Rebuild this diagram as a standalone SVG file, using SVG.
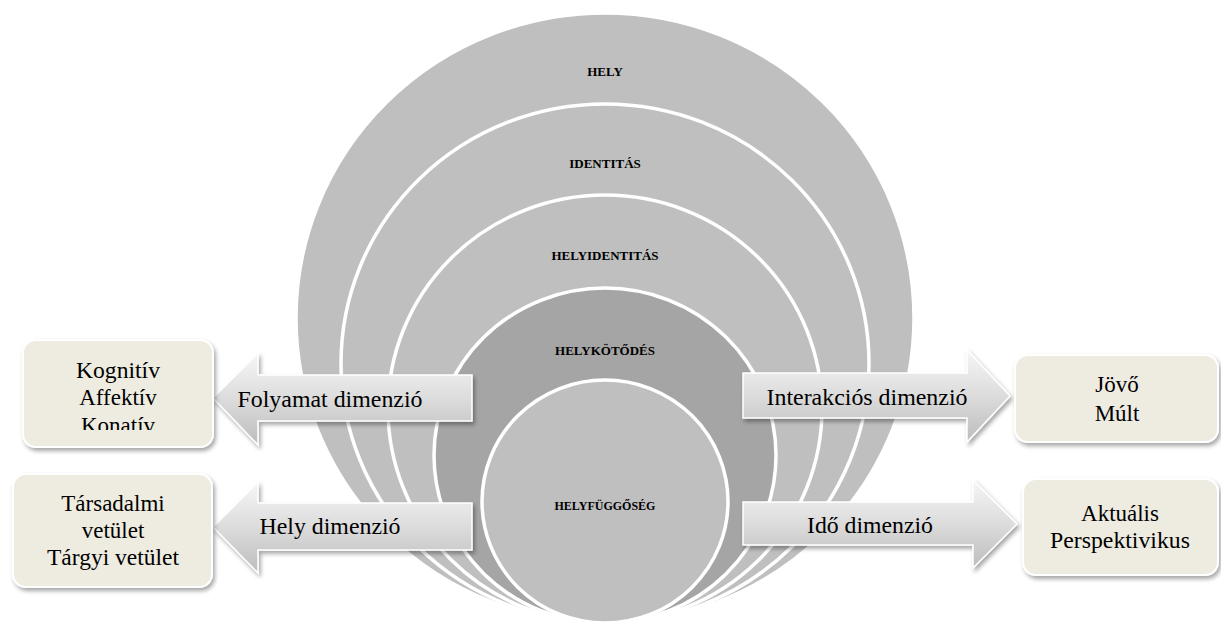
<svg xmlns="http://www.w3.org/2000/svg" width="1221" height="626" viewBox="0 0 1221 626">
<style>
.ring{fill:#bfbfbf;stroke:#ffffff;stroke-width:3.5}
.dark{fill:#a5a5a5}
.lbl{font-family:"Liberation Serif","Times New Roman",serif;font-weight:bold;font-size:13px;fill:#000;text-anchor:middle}
.arrow{fill:url(#ag);stroke:#ffffff;stroke-width:1.5;filter:url(#sh)}
.box{fill:#eeece1;stroke:#ffffff;stroke-width:2;filter:url(#sh)}
.t{font-family:"Liberation Serif","Times New Roman",serif;font-size:23px;fill:#000;text-anchor:middle}
</style>
<defs>
<linearGradient id="ag" x1="0" y1="0" x2="0" y2="1">
<stop offset="0" stop-color="#f6f6f6"/>
<stop offset="0.5" stop-color="#dcdcdc"/>
<stop offset="1" stop-color="#bcbcbc"/>
</linearGradient>
<filter id="sh" x="-10%" y="-20%" width="125%" height="150%">
<feDropShadow dx="2" dy="3" stdDeviation="2" flood-color="#000" flood-opacity="0.35"/>
</filter>
<clipPath id="clipK"><rect x="20" y="340" width="200" height="90"/></clipPath>
</defs>
<g id="circles">
<g id="c-hely"><ellipse class="ring" cx="605" cy="318" rx="309" ry="305"/><text class="lbl" x="605" y="76">HELY</text></g>
<g id="c-identitas"><ellipse class="ring" cx="605" cy="363.5" rx="264" ry="259.5"/><text class="lbl" x="605" y="168">IDENTITÁS</text></g>
<g id="c-helyidentitas"><ellipse class="ring" cx="605" cy="409" rx="217" ry="214"/><text class="lbl" x="605" y="260">HELYIDENTITÁS</text></g>
<g id="c-helykotodes"><ellipse class="ring dark" cx="605" cy="455.5" rx="171" ry="167.5"/><text class="lbl" x="605" y="355">HELYKÖTŐDÉS</text></g>
<g id="c-helyfuggoseg"><ellipse class="ring" cx="605" cy="501.5" rx="123" ry="121.5"/><text class="lbl" x="605" y="510" style="font-size:12px">HELYFÜGGŐSÉG</text></g>
</g>
<g id="connectors">
<g id="a-folyamat"><polygon class="arrow" points="213,398 258,353 258,375 472,375 472,421 258,421 258,445"/><text class="t" x="330" y="407" textLength="185" lengthAdjust="spacingAndGlyphs">Folyamat dimenzió</text></g>
<g id="a-hely"><polygon class="arrow" points="213,527 258,482 258,503 472,503 472,550 258,550 258,573"/><text class="t" x="330" y="534" textLength="141" lengthAdjust="spacingAndGlyphs">Hely dimenzió</text></g>
<g id="a-interakcios"><polygon class="arrow" points="743,373 967,373 967,350 1010,396 967,442 967,418 743,418"/><text class="t" x="867" y="405" textLength="201" lengthAdjust="spacingAndGlyphs">Interakciós dimenzió</text></g>
<g id="a-ido"><polygon class="arrow" points="743,502 973,502 973,480 1017,524 973,568 973,545 743,545"/><text class="t" x="870" y="533" textLength="126" lengthAdjust="spacingAndGlyphs">Idő dimenzió</text></g>
</g>
<g id="b-folyamat"><rect class="box" x="23" y="340" width="190" height="107" rx="13"/>
<g clip-path="url(#clipK)"><text class="t" x="118" y="378" textLength="84" lengthAdjust="spacingAndGlyphs">Kognitív</text><text class="t" x="118" y="405">Affektív</text><text class="t" x="118" y="433">Konatív</text></g></g>
<g id="b-hely"><rect class="box" x="13" y="474" width="199" height="113" rx="13"/>
<text class="t" x="113" y="511">Társadalmi</text><text class="t" x="113" y="538">vetület</text><text class="t" x="113" y="565" textLength="132" lengthAdjust="spacingAndGlyphs">Tárgyi vetület</text></g>
<g id="b-interakcios"><rect class="box" x="1015" y="355" width="203" height="87" rx="13"/>
<text class="t" x="1117" y="392">Jövő</text><text class="t" x="1117" y="421">Múlt</text></g>
<g id="b-ido"><rect class="box" x="1023" y="479" width="195" height="96" rx="13"/>
<text class="t" x="1120" y="521">Aktuális</text><text class="t" x="1120" y="548" textLength="140" lengthAdjust="spacingAndGlyphs">Perspektivikus</text></g>
</svg>
